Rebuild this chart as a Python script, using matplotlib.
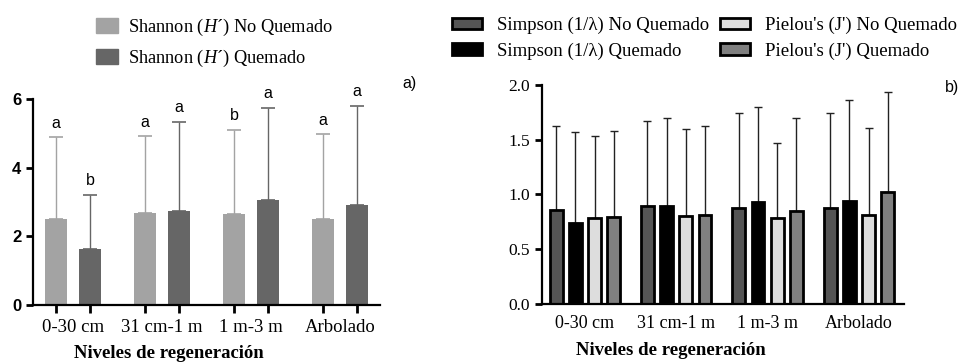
import numpy as np
import matplotlib
matplotlib.use("Agg")
import matplotlib.pyplot as plt
from matplotlib.patches import Patch

plt.rcParams['mathtext.fontset'] = 'custom'
plt.rcParams['mathtext.it'] = 'Liberation Serif:italic'
plt.rcParams['mathtext.rm'] = 'Liberation Serif'

# datos
niveles = ['0-30 cm', '31 cm-1 m', '1 m-3 m', 'Arbolado']

shannon_nq = [2.51, 2.67, 2.64, 2.51]
shannon_nq_err = [2.37, 2.24, 2.46, 2.46]
shannon_q = [1.64, 2.74, 3.07, 2.92]
shannon_q_err = [1.56, 2.59, 2.67, 2.89]
letras_nq = ['a', 'a', 'b', 'a']
letras_q = ['b', 'a', 'a', 'a']

simpson_nq = [0.86, 0.89, 0.88, 0.88]
simpson_nq_err = [0.76, 0.78, 0.86, 0.86]
simpson_q = [0.74, 0.89, 0.93, 0.94]
simpson_q_err = [0.83, 0.81, 0.87, 0.92]
pielou_nq = [0.78, 0.80, 0.78, 0.81]
pielou_nq_err = [0.75, 0.80, 0.69, 0.80]
pielou_q = [0.79, 0.81, 0.85, 1.02]
pielou_q_err = [0.79, 0.81, 0.85, 0.91]

serif = 'Liberation Serif'
sans = 'Liberation Sans'

fig = plt.figure(figsize=(9.62, 3.64), dpi=100)

# ---------- panel a) ----------
ax1 = fig.add_axes([0.0343, 0.162, 0.361, 0.566])
x = np.arange(len(niveles))
w = 0.25
off = 0.19
c_light = '#a3a3a3'
c_dark = '#666666'

ax1.bar(x - off, shannon_nq, w, color=c_light, zorder=2)
ax1.bar(x + off, shannon_q, w, color=c_dark, zorder=2)
ax1.errorbar(x - off, shannon_nq, yerr=[np.zeros(4), shannon_nq_err], fmt='none',
             ecolor=c_light, elinewidth=1, capsize=5, capthick=1.2, zorder=1)
ax1.errorbar(x + off, shannon_q, yerr=[np.zeros(4), shannon_q_err], fmt='none',
             ecolor=c_dark, elinewidth=1, capsize=5, capthick=1.2, zorder=1)

for i in range(len(niveles)):
    ax1.text(x[i] - off, shannon_nq[i] + shannon_nq_err[i] + 0.2, letras_nq[i],
             ha='center', va='bottom', fontsize=11.5, family=sans, clip_on=False)
    ax1.text(x[i] + off, shannon_q[i] + shannon_q_err[i] + 0.2, letras_q[i],
             ha='center', va='bottom', fontsize=11.5, family=sans, clip_on=False)

ax1.set_xlim(-0.45, 3.45)
ax1.set_ylim(0, 6)
ax1.set_yticks([0, 2, 4, 6])
ax1.set_xticks(np.concatenate([x - off, x + off]))
ax1.set_xticklabels([])
ax1.set_xticks(x, minor=True)
ax1.set_xticklabels(niveles, minor=True, family=serif, fontsize=13.5)
ax1.tick_params(axis='x', which='major', width=2, length=6)
ax1.tick_params(axis='x', which='minor', length=0, pad=10)
ax1.tick_params(axis='y', width=2, length=5)
for lab in ax1.get_yticklabels():
    lab.set_family(sans)
    lab.set_fontweight('bold')
    lab.set_fontsize(12)
for s in ['top', 'right']:
    ax1.spines[s].set_visible(False)
for s in ['left', 'bottom']:
    ax1.spines[s].set_linewidth(1.6)

ley1 = [Patch(color=c_light, label='Shannon ($H$\u00b4) No Quemado'),
        Patch(color=c_dark, label='Shannon ($H$\u00b4) Quemado')]
fig.legend(handles=ley1, loc='upper left', bbox_to_anchor=(0.083, 1.0), frameon=False,
           prop={'family': serif, 'size': 13.2}, handlelength=1.2, handleheight=0.9,
           labelspacing=0.55, handletextpad=0.5)

fig.text(0.426, 0.77, 'a)', family=sans, fontsize=11.5, ha='center', va='center')
fig.text(0.176, 0.03, 'Niveles de regeneración', family=serif, fontweight='bold',
         fontsize=13.5, ha='center', va='center')

# ---------- panel b) ----------
ax2 = fig.add_axes([0.5634, 0.165, 0.376, 0.602])
w2 = 0.14
offs = [-0.315, -0.105, 0.105, 0.315]
series = [(simpson_nq, simpson_nq_err, '#555555', 'Simpson (1/\u03bb) No Quemado'),
          (simpson_q, simpson_q_err, '#000000', 'Simpson (1/\u03bb) Quemado'),
          (pielou_nq, pielou_nq_err, '#dddddd', "Pielou's (J') No Quemado"),
          (pielou_q, pielou_q_err, '#808080', "Pielou's (J') Quemado")]

for o, (vals, errs, col, lab) in zip(offs, series):
    ax2.bar(x + o, vals, w2, color=col, edgecolor='black', linewidth=2, zorder=2)
    ax2.errorbar(x + o, vals, yerr=[np.zeros(4), errs], fmt='none', ecolor='#222222',
                 elinewidth=1, capsize=3, capthick=1, zorder=1)

ax2.set_xlim(-0.47, 3.49)
ax2.set_ylim(0, 2.0)
ax2.set_yticks([0, 0.5, 1.0, 1.5, 2.0])
ax2.set_yticklabels(['0.0', '0.5', '1.0', '1.5', '2.0'], family=serif, fontsize=12.5)
ax2.set_xticks(x)
ax2.set_xticklabels(niveles, family=serif, fontsize=13)
ax2.tick_params(axis='x', length=0, pad=8)
ax2.tick_params(axis='y', width=2, length=5)
for s in ['top', 'right']:
    ax2.spines[s].set_visible(False)
for s in ['left', 'bottom']:
    ax2.spines[s].set_linewidth(1.6)

ley2 = [Patch(facecolor=col, edgecolor='black', linewidth=2, label=lab)
        for _, _, col, lab in series]
fig.legend(handles=ley2, loc='upper left', bbox_to_anchor=(0.452, 1.0), frameon=False,
           ncol=2, prop={'family': serif, 'size': 13.5}, handlelength=1.6,
           handleheight=0.6, labelspacing=0.45, handletextpad=0.8, columnspacing=0.6)

fig.text(0.99, 0.76, 'b)', family=sans, fontsize=11.5, ha='center', va='center')
fig.text(0.697, 0.038, 'Niveles de regeneración', family=serif, fontweight='bold',
         fontsize=13.5, ha='center', va='center')

fig.savefig('out.png', dpi=100)
